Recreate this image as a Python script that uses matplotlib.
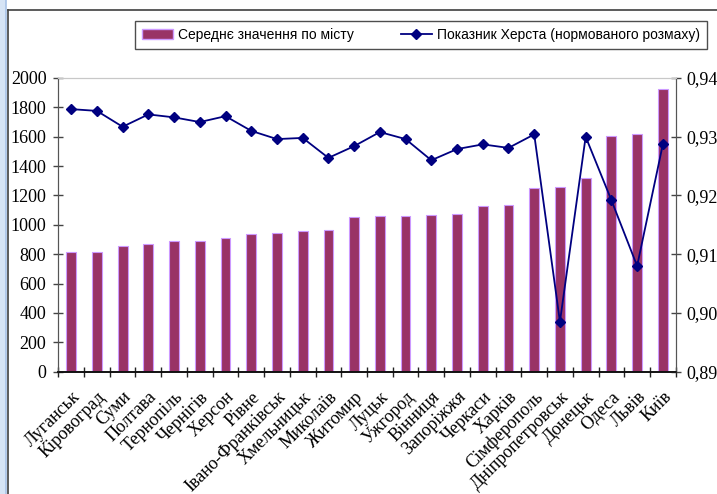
import matplotlib
matplotlib.use("Agg")
import matplotlib.pyplot as plt
from matplotlib.patches import Rectangle
from matplotlib.lines import Line2D
import numpy as np

cities = ["Луганськ", "Кіровоград", "Суми", "Полтава", "Тернопіль", "Чернігів",
          "Херсон", "Рівне", "Івано-Франківськ", "Хмельницьк", "Миколаїв",
          "Житомир", "Луцьк", "Ужгород", "Вінниця", "Запоріжжя", "Черкаси",
          "Харків", "Сімферополь", "Дніпропетровськ", "Донецьк", "Одеса",
          "Львів", "Київ"]
mean_value = [817, 817, 858, 870, 892, 892, 910, 936, 944, 956, 963, 1053,
              1058, 1058, 1069, 1076, 1128, 1135, 1249, 1260, 1319, 1607,
              1617, 1925]
hurst = [0.9347, 0.9344, 0.9317, 0.9338, 0.9333, 0.9325, 0.9335, 0.9310,
         0.9296, 0.9298, 0.9264, 0.9284, 0.9308, 0.9296, 0.9260, 0.9279,
         0.9287, 0.9281, 0.9304, 0.8985, 0.9300, 0.9192, 0.9080, 0.9287]
left_ticks = [0, 200, 400, 600, 800, 1000, 1200, 1400, 1600, 1800, 2000]
right_ticks = [0.89, 0.90, 0.91, 0.92, 0.93, 0.94]
right_labels = ["0,89", "0,90", "0,91", "0,92", "0,93", "0,94"]
bar_label = "Середнє значення по місту"
line_label = "Показник Херста (нормованого розмаху)"

W, H = 717, 494
fig = plt.figure(figsize=(W / 100, H / 100), dpi=100)
fig.patch.set_facecolor("white")

serif = ["Liberation Serif", "DejaVu Serif"]
sans = ["Liberation Sans", "DejaVu Sans"]

# window strip on the left and the chart frame
fig.patches.append(Rectangle((0, 0), 6 / W, 1, transform=fig.transFigure,
                             facecolor="#d6e4f5", edgecolor="none", zorder=0))
fig.add_artist(Line2D([6 / W, 6 / W], [0, 1], transform=fig.transFigure,
                      color="#a8c2e6", lw=1.2))
fig.add_artist(Line2D([7.5 / W, 7.5 / W], [0, 1 - 10 / H], transform=fig.transFigure,
                      color="#404040", lw=1.2))
fig.add_artist(Line2D([7.5 / W, 1], [1 - 10 / H, 1 - 10 / H], transform=fig.transFigure,
                      color="#404040", lw=1.2))

x0, x1 = 58.3, 675.7
ytop, ybot = 78.0, 371.7
ax = fig.add_axes([x0 / W, (H - ybot) / H, (x1 - x0) / W, (ybot - ytop) / H])
ax2 = ax.twinx()

n = len(cities)
x = np.arange(n)
ax.bar(x, mean_value, width=0.38, color="#993366", edgecolor="#cc99ff",
       linewidth=0.8, zorder=2)
ax2.plot(x, hurst, color="#000080", lw=1.3, marker="D", markersize=5,
         zorder=3)

ax.set_xlim(-0.5, n - 0.5)
ax.set_ylim(0, 2000)
ax2.set_ylim(0.89, 0.94)

ax.set_yticks(left_ticks)
ax.set_yticklabels([str(v) for v in left_ticks], fontfamily=serif, fontsize=13)
ax2.set_yticks(right_ticks)
ax2.set_yticklabels(right_labels, fontfamily=serif, fontsize=13)

ax.set_xticks(x)
ax.set_xticklabels(cities, rotation=45, ha="right", rotation_mode="anchor",
                   fontfamily=serif, fontsize=13)
ax.tick_params(axis="x", which="major", length=0, pad=12)
ax.set_xticks(np.arange(n + 1) - 0.5, minor=True)
ax.tick_params(axis="x", which="minor", length=7, direction="inout",
               color="#222222", width=1)
ax.tick_params(axis="y", length=7, direction="inout", color="#444444",
               width=1, pad=5)
ax2.tick_params(axis="y", length=7, direction="inout", color="#444444",
                width=1, pad=4)

for a in (ax, ax2):
    a.spines["top"].set_color("#c8c8c8")
    a.spines["left"].set_color("#555555")
    a.spines["right"].set_color("#555555")
    a.spines["bottom"].set_color("#111111")
    a.spines["bottom"].set_linewidth(1.2)

handles = [Rectangle((0, 0), 1, 1, facecolor="#993366", edgecolor="#cc99ff"),
           Line2D([], [], color="#000080", marker="D", markersize=5, lw=1.3)]
leg = fig.legend(handles, [bar_label, line_label], loc="lower left",
                 bbox_to_anchor=(135 / W, (H - 49) / H, 572 / W, 29 / H),
                 mode="expand", ncol=2, frameon=True, fancybox=False,
                 prop={"family": sans, "size": 10}, handlelength=2.2,
                 handletextpad=0.4, borderaxespad=0, borderpad=0.5)
leg.get_frame().set_edgecolor("#222222")
leg.get_frame().set_linewidth(1.0)

fig.savefig("out.png", dpi=100)
